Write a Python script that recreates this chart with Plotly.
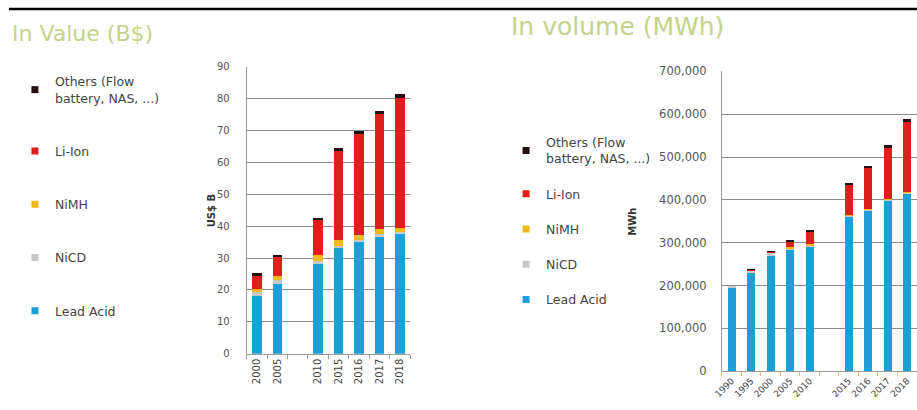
import plotly.graph_objects as go

# ---------------- data ----------------
series_names = ["Others (Flow<br>battery, NAS, ...)", "Li-Ion", "NiMH", "NiCD", "Lead Acid"]

# In value (B$)
value_years = ["2000", "2005", "2010", "2015", "2016", "2017", "2018"]
value_axis_order = ["2000", "2005", " ", "2010", "2015", "2016", "2017", "2018"]
value_lead_acid = [18.0, 21.8, 28.0, 33.0, 35.0, 37.0, 37.8]
value_nicd = [1.3, 1.2, 1.0, 0.8, 0.7, 0.6, 0.5]
value_nimh = [1.0, 1.5, 1.8, 1.8, 1.6, 1.4, 1.2]
value_li_ion = [4.5, 6.0, 11.2, 28.0, 31.7, 36.0, 40.8]
value_others = [0.4, 0.5, 0.7, 0.8, 0.9, 1.0, 1.0]
value_ticks = [0, 10, 20, 30, 40, 50, 60, 70, 80, 90]

# In volume (MWh)
volume_years = ["1990", "1995", "2000", "2005", "2010", "2015", "2016", "2017", "2018"]
volume_axis_order = ["1990", "1995", "2000", "2005", "2010", "  ", "2015", "2016", "2017", "2018"]
volume_lead_acid = [194000, 230000, 270000, 282000, 290000, 360000, 375000, 398000, 415000]
volume_nicd = [2000, 4000, 5000, 4000, 3000, 2000, 2000, 2000, 2000]
volume_nimh = [0, 1000, 2000, 3000, 3000, 2000, 2000, 2000, 2000]
volume_li_ion = [0, 1000, 1000, 13000, 30000, 70000, 95000, 120000, 162000]
volume_others = [0, 1000, 1000, 2000, 2000, 3000, 4000, 5000, 7000]
volume_ticks = [0, 100000, 200000, 300000, 400000, 500000, 600000, 700000]

# ---------------- styles ----------------
colors = {
    "Lead Acid": "#1c9fd6",
    "NiCD": "#c8c8c8",
    "NiMH": "#f3b81c",
    "Li-Ion": "#de1f1b",
    "Others (Flow<br>battery, NAS, ...)": "#241010",
}
FONT = "DejaVu Sans"
TXT = "#555555"
GRID = "#8c8c8c"
AXLINE = "#9a9a9a"
TITLE_COLOR = "#c3d389"

fig = go.Figure()

value_stack = [
    ("Lead Acid", value_lead_acid),
    ("NiCD", value_nicd),
    ("NiMH", value_nimh),
    ("Li-Ion", value_li_ion),
    ("Others (Flow<br>battery, NAS, ...)", value_others),
]
volume_stack = [
    ("Lead Acid", volume_lead_acid),
    ("NiCD", volume_nicd),
    ("NiMH", volume_nimh),
    ("Li-Ion", volume_li_ion),
    ("Others (Flow<br>battery, NAS, ...)", volume_others),
]

for name, vals in value_stack:
    fig.add_trace(go.Bar(x=value_years, y=vals, name=name, marker_color=colors[name],
                         marker_line_width=0, width=0.46, showlegend=False,
                         xaxis="x", yaxis="y"))
for name, vals in volume_stack:
    fig.add_trace(go.Bar(x=volume_years, y=vals, name=name, marker_color=colors[name],
                         marker_line_width=0, width=0.42, showlegend=False,
                         xaxis="x2", yaxis="y2"))

# legend entries (small square swatches)
for leg, ax, ay in (("legend", "x", "y"), ("legend2", "x2", "y2")):
    for name in series_names:
        fig.add_trace(go.Scatter(x=[None], y=[None], mode="markers", name=name,
                                 marker=dict(symbol="square", size=7, color=colors[name]),
                                 legend=leg, legendgroup=leg + name, xaxis=ax, yaxis=ay))

W, H = 917, 410
fig.update_layout(
    width=W, height=H, autosize=False,
    margin=dict(l=0, r=0, t=0, b=0),
    paper_bgcolor="white", plot_bgcolor="white",
    barmode="stack",
    font=dict(family=FONT, color=TXT, size=10),
    xaxis=dict(domain=[240 / W, 405 / W], type="category", categoryorder="array",
               categoryarray=value_axis_order, range=[-0.5, 7.5], anchor="y",
               tickangle=-90, showline=True, linecolor=AXLINE, ticks="outside",
               tickson="boundaries", ticklen=4, tickcolor=AXLINE, showgrid=False,
               tickfont=dict(size=10, color="#444444")),
    yaxis=dict(domain=[(H - 359) / H, (H - 61.7) / H], range=[0, 90], tickvals=value_ticks,
               anchor="x", showgrid=True, gridcolor=GRID, gridwidth=1, zeroline=False,
               showline=True, linecolor=AXLINE, ticks="", ticklabelstandoff=14,
               tickfont=dict(size=10, color=TXT)),
    xaxis2=dict(domain=[720 / W, 1.0], type="category", categoryorder="array",
                categoryarray=volume_axis_order, range=[-0.5, 9.5], anchor="y2",
                tickangle=-45, showline=True, linecolor=AXLINE, ticks="outside",
                tickson="boundaries", ticklen=4, tickcolor="#f0c070", showgrid=False,
                tickfont=dict(size=9, color="#444444")),
    yaxis2=dict(domain=[(H - 377) / H, (H - 66.7) / H], range=[0, 700000], tickvals=volume_ticks,
                tickformat=",", anchor="x2", showgrid=True, gridcolor=GRID, gridwidth=1,
                zeroline=False, showline=True, linecolor=AXLINE, ticks="", ticklabelstandoff=12,
                tickfont=dict(size=11.5, color=TXT)),
    legend=dict(x=6 / W, y=(H - 62) / H, xanchor="left", yanchor="top",
                traceorder="grouped", tracegroupgap=34, bgcolor="rgba(0,0,0,0)",
                font=dict(family=FONT, size=12.5, color="#444444")),
    legend2=dict(x=502 / W, y=(H - 125) / H, xanchor="left", yanchor="top",
                 traceorder="grouped", tracegroupgap=16, bgcolor="rgba(0,0,0,0)",
                 font=dict(family=FONT, size=12.5, color="#444444")),
)

fig.add_annotation(text="In Value (B$)", xref="paper", yref="paper", x=1 / W, y=(H - 27) / H,
                   xanchor="left", yanchor="middle", showarrow=False,
                   font=dict(family=FONT, size=22, color=TITLE_COLOR))
fig.add_annotation(text="In volume (MWh)", xref="paper", yref="paper", x=505 / W, y=(H - 20) / H,
                   xanchor="left", yanchor="middle", showarrow=False,
                   font=dict(family=FONT, size=25, color=TITLE_COLOR))
fig.add_annotation(text="<b>US$ B</b>", xref="paper", yref="paper", x=197 / W, y=(H - 211) / H,
                   textangle=-90, showarrow=False, font=dict(family=FONT, size=10, color="#333333"))
fig.add_annotation(text="<b>MWh</b>", xref="paper", yref="paper", x=637 / W, y=(H - 222) / H,
                   textangle=-90, showarrow=False, font=dict(family=FONT, size=10, color="#333333"))

fig.add_shape(type="line", xref="paper", yref="paper", x0=0, x1=1, y0=(H - 2) / H, y1=(H - 2) / H,
              line=dict(color="black", width=2.5))

fig.write_html("out.html", config={"displayModeBar": False},
               post_script="document.body.style.margin='0';")
